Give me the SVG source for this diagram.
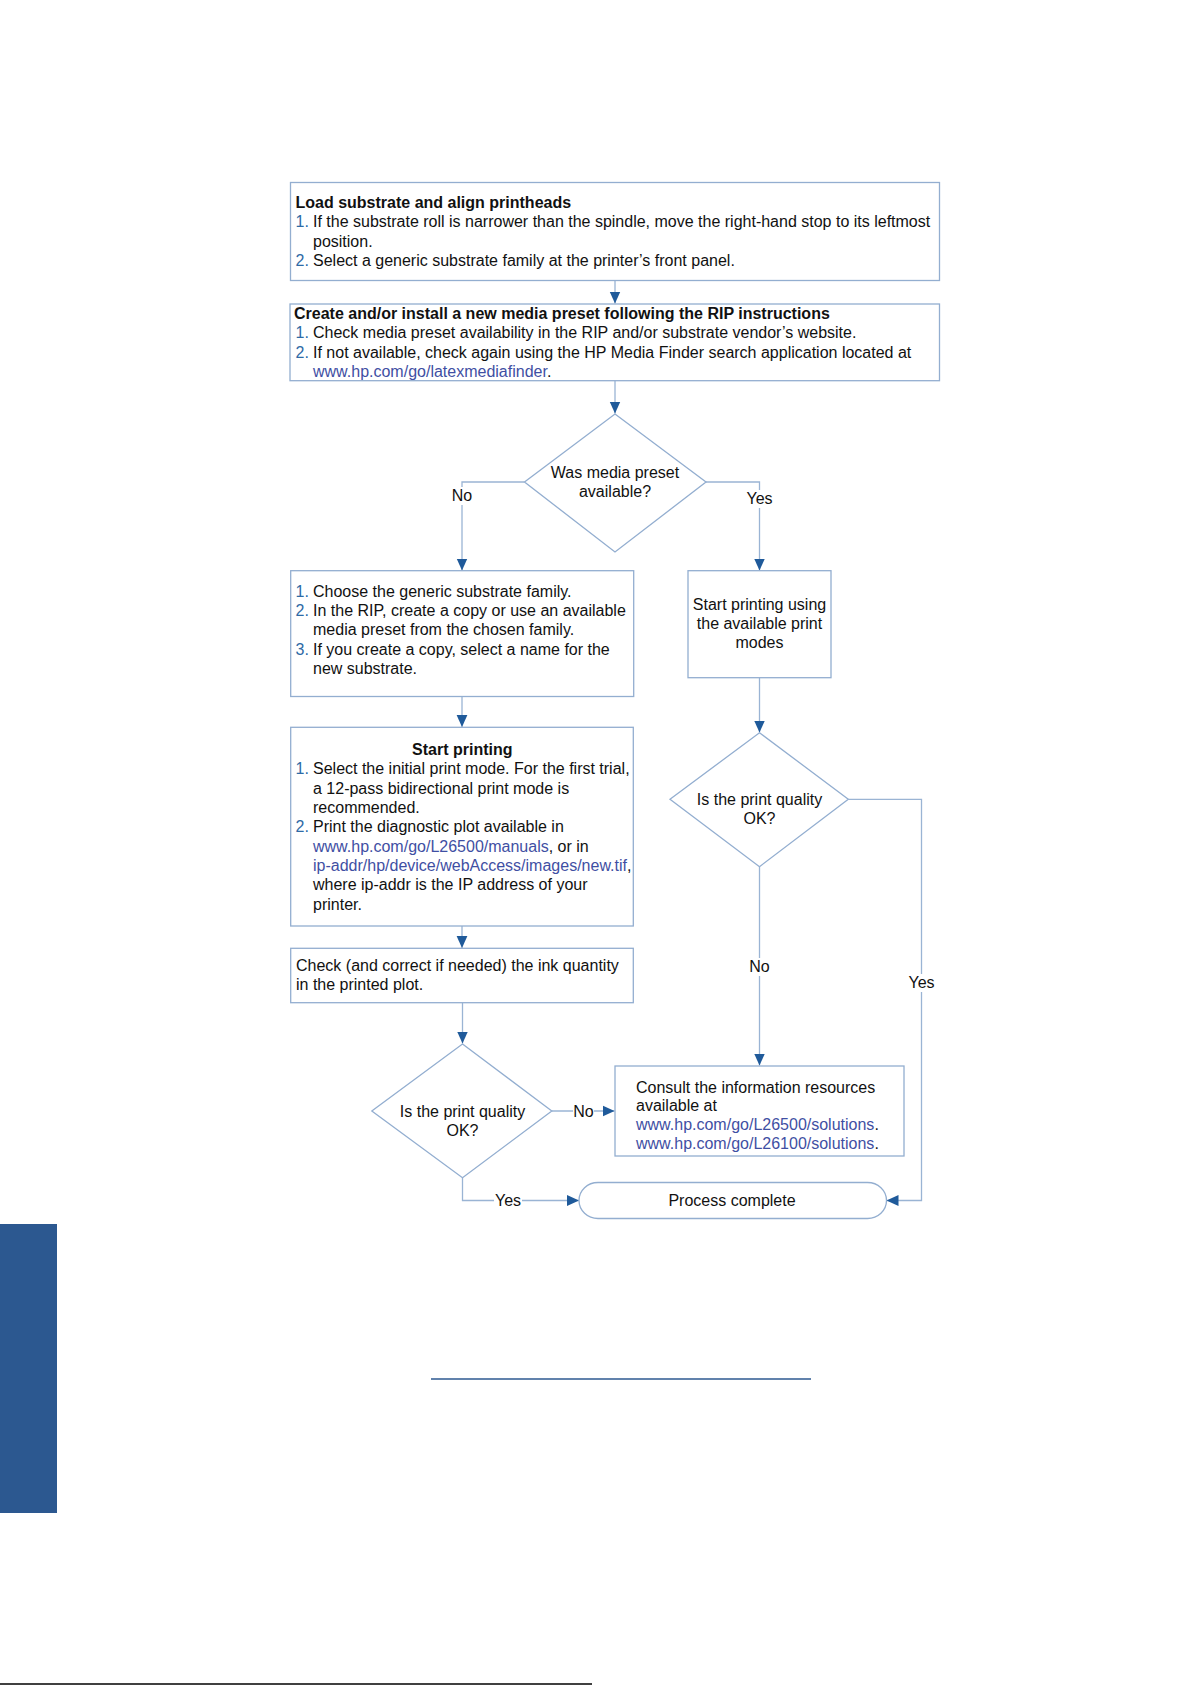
<svg xmlns="http://www.w3.org/2000/svg" width="1191" height="1685" viewBox="0 0 1191 1685">
  <defs>
    <marker id="arr" markerUnits="userSpaceOnUse" markerWidth="12" markerHeight="12" viewBox="0 0 10 10" refX="10" refY="5" orient="auto">
      <path d="M0,0.5 L10,5 L0,9.5 Z" fill="#1F5A9A"/>
    </marker>
    <style>
      .box { fill: #ffffff; stroke: #93AED0; stroke-width: 1.3; }
      .con { fill: none; stroke: #9AB4D4; stroke-width: 1.3; }
      .t { font-family: "Liberation Sans", Arial, sans-serif; font-size: 16px; fill: #111111; }
      .b { font-weight: bold; }
      .num { fill: #2E6AA6; }
      .lnk { fill: #3F4FA3; }
      .mid { text-anchor: middle; }
      .lblbg { fill: #ffffff; }
    </style>
  </defs>

  <rect width="1191" height="1685" fill="#ffffff"/>

  <!-- page decorations -->
  <rect x="0" y="1224" width="57" height="289" fill="#2C5890"/>
  <line x1="431" y1="1379" x2="811" y2="1379" stroke="#2C5890" stroke-width="1.5"/>
  <line x1="0" y1="1684" x2="592" y2="1684" stroke="#000000" stroke-width="1.5"/>

  <!-- connectors -->
  <g id="connectors">
    <line class="con" x1="615" y1="281" x2="615" y2="303.5" marker-end="url(#arr)"/>
    <line class="con" x1="615" y1="381" x2="615" y2="413.5" marker-end="url(#arr)"/>
    <polyline class="con" points="524.5,482 462,482 462,570.5" marker-end="url(#arr)"/>
    <polyline class="con" points="706,482 759.5,482 759.5,570.5" marker-end="url(#arr)"/>
    <line class="con" x1="462" y1="696.5" x2="462" y2="727" marker-end="url(#arr)"/>
    <line class="con" x1="462" y1="926" x2="462" y2="948" marker-end="url(#arr)"/>
    <line class="con" x1="462.5" y1="1003" x2="462.5" y2="1043.5" marker-end="url(#arr)"/>
    <line class="con" x1="759.5" y1="678" x2="759.5" y2="732.5" marker-end="url(#arr)"/>
    <line class="con" x1="759.5" y1="866.7" x2="759.5" y2="1065.5" marker-end="url(#arr)"/>
    <polyline class="con" points="848.3,799.3 921.5,799.3 921.5,1200.5 886.5,1200.5" marker-end="url(#arr)"/>
    <line class="con" x1="551.8" y1="1111" x2="614.5" y2="1111" marker-end="url(#arr)"/>
    <polyline class="con" points="462.5,1177.7 462.5,1200.5 579,1200.5" marker-end="url(#arr)"/>

    <!-- labels -->
    <rect class="lblbg" x="450" y="487" width="24" height="18"/>
    <text class="t mid" x="462" y="500.5">No</text>
    <rect class="lblbg" x="745" y="490" width="29" height="18"/>
    <text class="t mid" x="759.5" y="504">Yes</text>
    <rect class="lblbg" x="747" y="958" width="25" height="18"/>
    <text class="t mid" x="759.5" y="972">No</text>
    <rect class="lblbg" x="907" y="974" width="29" height="18"/>
    <text class="t mid" x="921.5" y="988">Yes</text>
    <rect class="lblbg" x="573" y="1102" width="21" height="17"/>
    <text class="t mid" x="583.5" y="1116.5">No</text>
    <rect class="lblbg" x="494" y="1192" width="28" height="16"/>
    <text class="t mid" x="508" y="1205.5">Yes</text>
  </g>

  <!-- Load substrate -->
  <g id="load-substrate">
    <rect class="box" x="290.5" y="182.5" width="649" height="98"/>
    <text class="t b" x="295.5" y="208">Load substrate and align printheads</text>
    <text class="t" y="227.3"><tspan class="num" x="295.5">1.</tspan><tspan x="313">If the substrate roll is narrower than the spindle, move the right-hand stop to its leftmost</tspan></text>
    <text class="t" x="313" y="246.5">position.</text>
    <text class="t" y="265.5"><tspan class="num" x="295.5">2.</tspan><tspan x="313">Select a generic substrate family at the printer’s front panel.</tspan></text>
  </g>

  <!-- Create media preset -->
  <g id="create-preset">
    <rect class="box" x="290" y="304" width="649.5" height="76.7"/>
    <text class="t b" x="294" y="319">Create and/or install a new media preset following the RIP instructions</text>
    <text class="t" y="338.3"><tspan class="num" x="295.5">1.</tspan><tspan x="313">Check media preset availability in the RIP and/or substrate vendor’s website.</tspan></text>
    <text class="t" y="357.6"><tspan class="num" x="295.5">2.</tspan><tspan x="313">If not available, check again using the HP Media Finder search application located at</tspan></text>
    <text class="t" y="376.8"><tspan class="lnk" x="313">www.hp.com/go/latexmediafinder</tspan><tspan>.</tspan></text>
  </g>

  <!-- Decision 1 -->
  <g id="preset-available">
    <polygon class="box" points="615,414 706,482 615,552 524.5,482"/>
    <text class="t mid" x="615" y="478">Was media preset</text>
    <text class="t mid" x="615" y="497">available?</text>
  </g>

  <!-- Choose generic family -->
  <g id="choose-family">
    <rect class="box" x="290.7" y="570.7" width="343" height="125.8"/>
    <text class="t" y="597"><tspan class="num" x="295.5">1.</tspan><tspan x="313">Choose the generic substrate family.</tspan></text>
    <text class="t" y="616.2"><tspan class="num" x="295.5">2.</tspan><tspan x="313">In the RIP, create a copy or use an available</tspan></text>
    <text class="t" x="313" y="635.4">media preset from the chosen family.</text>
    <text class="t" y="654.6"><tspan class="num" x="295.5">3.</tspan><tspan x="313">If you create a copy, select a name for the</tspan></text>
    <text class="t" x="313" y="673.8">new substrate.</text>
  </g>

  <!-- Start printing using available modes -->
  <g id="start-available">
    <rect class="box" x="688" y="570.7" width="143" height="107"/>
    <text class="t mid" x="759.5" y="610">Start printing using</text>
    <text class="t mid" x="759.5" y="629">the available print</text>
    <text class="t mid" x="759.5" y="648">modes</text>
  </g>

  <!-- Start printing -->
  <g id="start-printing">
    <rect class="box" x="290.7" y="727.3" width="342.6" height="198.7"/>
    <text class="t b mid" x="462.3" y="755">Start printing</text>
    <text class="t" y="774.4"><tspan class="num" x="295.5">1.</tspan><tspan x="313">Select the initial print mode. For the first trial,</tspan></text>
    <text class="t" x="313" y="793.7">a 12-pass bidirectional print mode is</text>
    <text class="t" x="313" y="813">recommended.</text>
    <text class="t" y="832.3"><tspan class="num" x="295.5">2.</tspan><tspan x="313">Print the diagnostic plot available in</tspan></text>
    <text class="t" y="851.6"><tspan class="lnk" x="313">www.hp.com/go/L26500/manuals</tspan><tspan>, or in</tspan></text>
    <text class="t" y="870.9"><tspan class="lnk" x="313">ip-addr/hp/device/webAccess/images/new.tif</tspan><tspan>,</tspan></text>
    <text class="t" x="313" y="890.2">where ip-addr is the IP address of your</text>
    <text class="t" x="313" y="909.5">printer.</text>
  </g>

  <!-- Check ink quantity -->
  <g id="check-ink">
    <rect class="box" x="290.7" y="948.3" width="342.6" height="54.4"/>
    <text class="t" x="296" y="971.2">Check (and correct if needed) the ink quantity</text>
    <text class="t" x="296" y="990">in the printed plot.</text>
  </g>

  <!-- Decision 2 (right) -->
  <g id="quality-ok-right">
    <polygon class="box" points="759.5,732.7 848.3,799.3 759.5,866.7 670,799.3"/>
    <text class="t mid" x="759.5" y="805">Is the print quality</text>
    <text class="t mid" x="759.5" y="823.5">OK?</text>
  </g>

  <!-- Decision 3 (left) -->
  <g id="quality-ok-left">
    <polygon class="box" points="462.5,1044 551.8,1111 462.5,1177.7 371.8,1111"/>
    <text class="t mid" x="462.5" y="1117.3">Is the print quality</text>
    <text class="t mid" x="462.5" y="1135.5">OK?</text>
  </g>

  <!-- Consult info -->
  <g id="consult-info">
    <rect class="box" x="615" y="1066" width="289" height="90"/>
    <text class="t" x="636" y="1092.5">Consult the information resources</text>
    <text class="t" x="636" y="1111.2">available at</text>
    <text class="t" y="1129.9"><tspan class="lnk" x="636">www.hp.com/go/L26500/solutions</tspan><tspan>.</tspan></text>
    <text class="t" y="1148.6"><tspan class="lnk" x="636">www.hp.com/go/L26100/solutions</tspan><tspan>.</tspan></text>
  </g>

  <!-- Process complete -->
  <g id="process-complete">
    <rect class="box" x="579" y="1182.5" width="307.5" height="36" rx="19" ry="18"/>
    <text class="t mid" x="732" y="1205.5">Process complete</text>
  </g>
</svg>
